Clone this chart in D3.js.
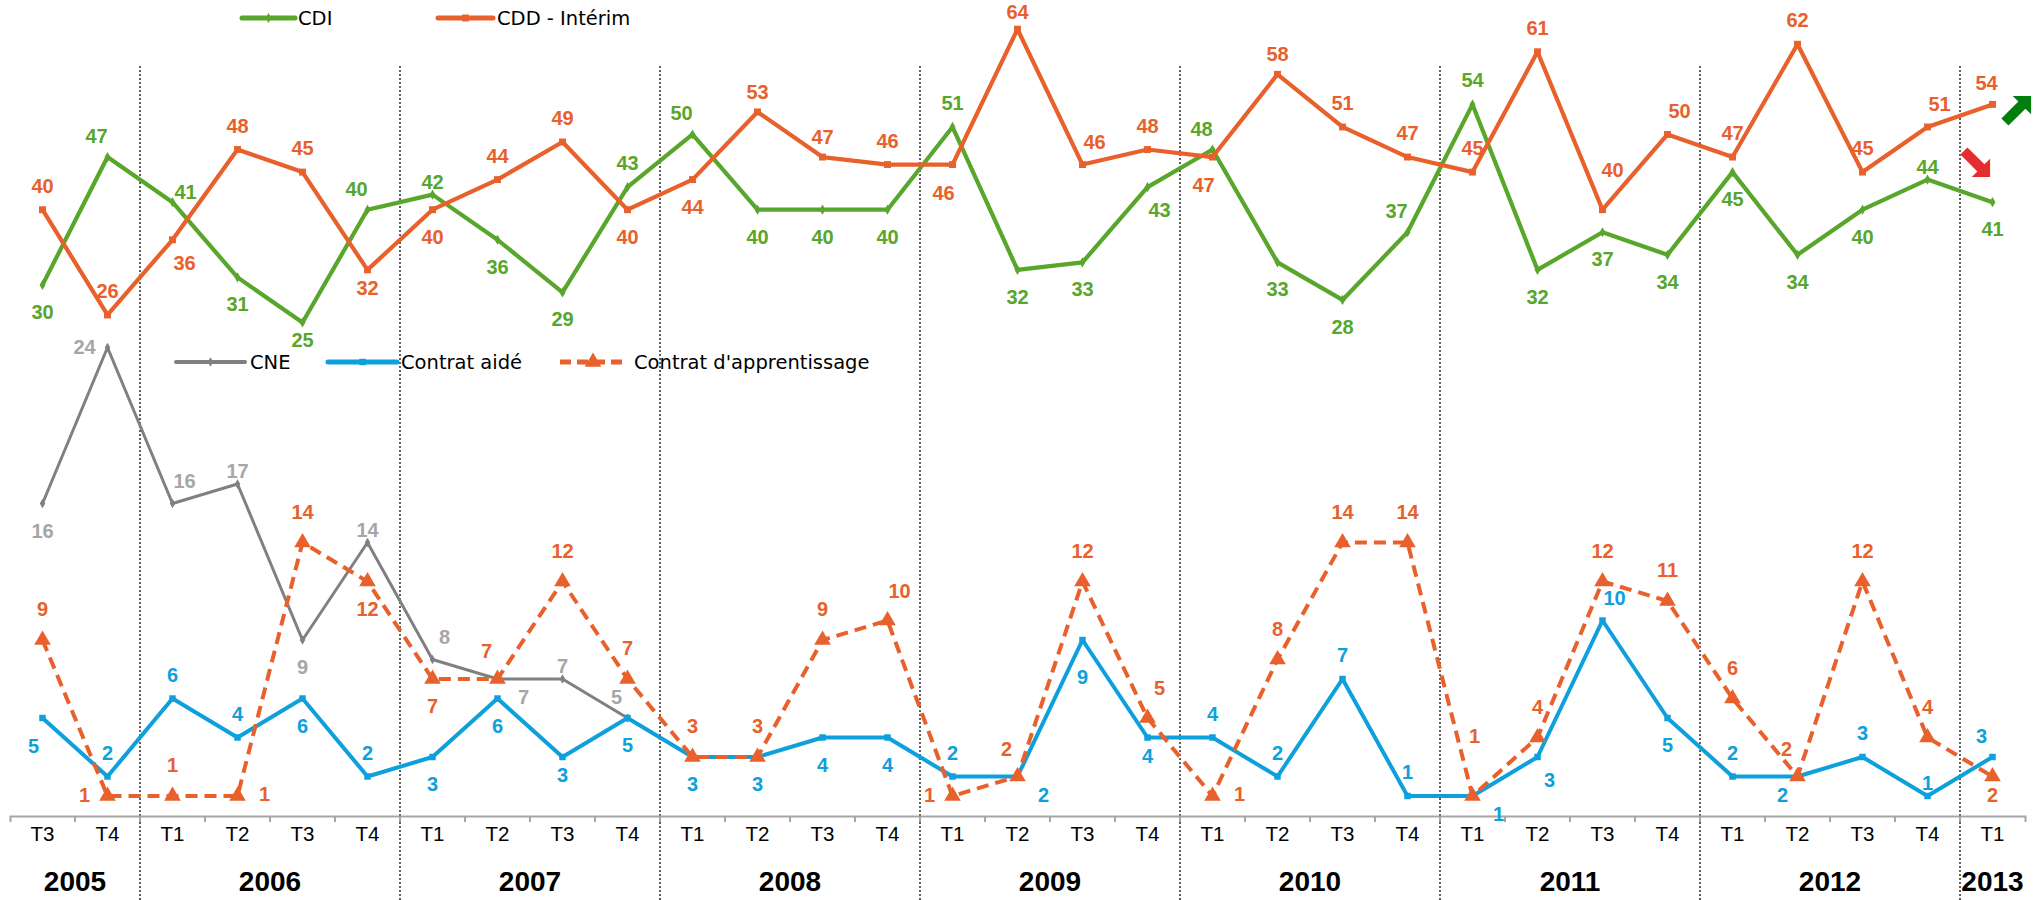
<!DOCTYPE html>
<html>
<head>
<meta charset="utf-8">
<script src="https://cdn.jsdelivr.net/npm/d3@7"></script>
<style>
  html, body { margin: 0; padding: 0; background: #ffffff; }
  svg { display: block; }
</style>
</head>
<body>
<svg id="chart" width="2043" height="900"></svg>
<script>
// Quarters covered, "year quarter"
const periods = [
  "2005 T3", "2005 T4",
  "2006 T1", "2006 T2", "2006 T3", "2006 T4",
  "2007 T1", "2007 T2", "2007 T3", "2007 T4",
  "2008 T1", "2008 T2", "2008 T3", "2008 T4",
  "2009 T1", "2009 T2", "2009 T3", "2009 T4",
  "2010 T1", "2010 T2", "2010 T3", "2010 T4",
  "2011 T1", "2011 T2", "2011 T3", "2011 T4",
  "2012 T1", "2012 T2", "2012 T3", "2012 T4",
  "2013 T1"
];

// Upper panel series
const cdi = [30, 47, 41, 31, 25, 40, 42, 36, 29, 43, 50, 40, 40, 40, 51, 32,
             33, 43, 48, 33, 28, 37, 54, 32, 37, 34, 45, 34, 40, 44, 41];
const cdd = [40, 26, 36, 48, 45, 32, 40, 44, 49, 40, 44, 53, 47, 46, 46, 64,
             46, 48, 47, 58, 51, 47, 45, 61, 40, 50, 47, 62, 45, 51, 54];

// Lower panel series
const cne = [16, 24, 16, 17, 9, 14, 8, 7, 7, 5, null, null, null, null, null, null,
             null, null, null, null, null, null, null, null, null, null, null, null, null, null, null];
const aide = [5, 2, 6, 4, 6, 2, 3, 6, 3, 5, 3, 3, 4, 4, 2, 2,
              9, 4, 4, 2, 7, 1, 1, 3, 10, 5, 2, 2, 3, 1, 3];
const apprentissage = [9, 1, 1, 1, 14, 12, 7, 7, 12, 7, 3, 3, 9, 10, 1, 2,
                       12, 5, 1, 8, 14, 14, 1, 4, 12, 11, 6, 2, 12, 4, 2];

// Where each value label sits around its point
const cdiLabelPos = ["b","tl","rt","b","bn","tl","tn","b","b","t","tl","b","b","b","t","b",
                     "b","br","tl","b","b","tl","t","b","b","b","b","b","b","tn","b"];
const cddLabelPos = ["t","t","br","t","t","bn","b","t","t","b","b","t2","t2","t","bl","t3",
                     "tr","t","bl","t2","t","t","t","t","tf","tr","t","t","t","tr","tl2"];
const cneLabelPos = ["b","l","tr","tn","b","tn","tr","rb","tn","tl","","","","","","",
                     "","","","","","","","","","","","","","",""];
const aideLabelPos = ["bl","t","t","t","b","t","b","b","bn","b","b","b","b","b","t","rb",
                      "bf","bn","t","t","t","t","rb","br","tr","b","t","lb","t","tn","tl"];
const apprLabelPos = ["t","l","t","r","t","b","b","tl","t","t","t","t","t","tr","l","tl",
                      "t","tr","r","t","t","t","tff","t","t","t","t","tl","t","t","bn"];

const W = 2043, H = 900;
const svg = d3.select("#chart");

const COL = {
  cdi: "#58a62b",
  cdd: "#e8612c",
  cne: "#808080",
  cneText: "#a6a6a6",
  aide: "#0ea0dc",
  appr: "#e8612c"
};

const labelFont = "'Liberation Sans', Arial, sans-serif";
const legendFont = "'DejaVu Sans', Verdana, sans-serif";

// Scales
const x = d3.scaleBand().domain(periods).range([10, 2025]).padding(0);
const cx = p => x(p) + x.bandwidth() / 2;
const yTop = d3.scaleLinear().domain([0, 64]).range([510.5, 29.2]);
const yBot = d3.scaleLinear().domain([0, 40]).range([815.5, 35.5]);
const axisY = 816;

// Year separators (dotted)
const years = d3.groups(periods, p => p.split(" ")[0]);
const sepG = svg.append("g");
years.slice(1).forEach(([yr, ps]) => {
  sepG.append("line")
    .attr("x1", x(ps[0])).attr("x2", x(ps[0]))
    .attr("y1", 66).attr("y2", H)
    .attr("stroke", "#1a1a1a")
    .attr("stroke-width", 1.4)
    .attr("stroke-dasharray", "2,2");
});

// Bottom axis: quarter labels at band centres
const axis = d3.axisBottom(x)
  .tickSizeInner(0)
  .tickSizeOuter(6)
  .tickPadding(10)
  .tickFormat(p => p.split(" ")[1]);
const axG = svg.append("g").attr("transform", `translate(0,${axisY})`).call(axis);
axG.select(".domain").attr("stroke", "#a6a6a6").attr("stroke-width", 2);
axG.selectAll(".tick text")
  .attr("font-family", labelFont)
  .attr("font-size", 20.5)
  .attr("fill", "#000");
// boundary ticks between quarters
axG.selectAll("line.bt")
  .data(periods.slice(1))
  .join("line")
  .attr("class", "bt")
  .attr("x1", p => x(p)).attr("x2", p => x(p))
  .attr("y1", 0).attr("y2", 6)
  .attr("stroke", "#a6a6a6").attr("stroke-width", 2);

// Year labels
svg.append("g").selectAll("text")
  .data(years)
  .join("text")
  .attr("x", ([yr, ps]) => (x(ps[0]) + x(ps[ps.length - 1]) + x.bandwidth()) / 2)
  .attr("y", 881)
  .attr("dy", "0.35em")
  .attr("text-anchor", "middle")
  .attr("font-family", labelFont)
  .attr("font-weight", "bold")
  .attr("font-size", 28)
  .attr("fill", "#000")
  .text(([yr]) => yr);

// Label offsets around a point
const OFF = {
  t: [0, -24], t2: [0, -20], t3: [0, -17], tn: [0, -13], tf: [10, -40], tff: [2, -60],
  b: [0, 27], bn: [0, 18], bf: [0, 37],
  tl: [-11, -21], tl2: [-6, -21], tr: [12, -23], rt: [13, -10],
  bl: [-9, 28], br: [12, 23], rb: [26, 18], lb: [-15, 18],
  l: [-23, -1], r: [27, -2]
};

function drawSeries(cfg) {
  const g = svg.append("g");
  const pts = periods.map((p, i) => ({ p, v: cfg.values[i], pos: cfg.labelPos[i] }));
  const line = d3.line()
    .defined(d => d.v != null)
    .x(d => cx(d.p))
    .y(d => cfg.y(d.v));
  g.append("path")
    .datum(pts)
    .attr("d", line)
    .attr("fill", "none")
    .attr("stroke", cfg.color)
    .attr("stroke-width", cfg.width)
    .attr("stroke-linejoin", "round")
    .attr("stroke-dasharray", cfg.dash || null);
  const valid = pts.filter(d => d.v != null);
  g.selectAll("path.m")
    .data(valid)
    .join("path")
    .attr("class", "m")
    .attr("transform", d => `translate(${cx(d.p)},${cfg.y(d.v)})`)
    .attr("d", d3.symbol().type(cfg.symbol).size(cfg.symbolSize))
    .attr("fill", cfg.color);
  return { g, valid };
}

function drawLabels(cfg, valid) {
  svg.append("g").selectAll("text")
    .data(valid)
    .join("text")
    .attr("x", d => cx(d.p) + OFF[d.pos][0])
    .attr("y", d => cfg.y(d.v) + OFF[d.pos][1] - (d.pos[0] === "t" && d.pos !== "tff" ? cfg.pad : 0))
    .attr("dy", "0.35em")
    .attr("text-anchor", "middle")
    .attr("font-family", labelFont)
    .attr("font-weight", "bold")
    .attr("font-size", 20)
    .attr("fill", cfg.textColor || cfg.color)
    .text(d => d.v);
}

const series = [
  { values: cne, labelPos: cneLabelPos, y: yBot, color: COL.cne, textColor: COL.cneText, width: 3,
    symbol: d3.symbolDiamond, symbolSize: 26, pad: 0 },
  { values: aide, labelPos: aideLabelPos, y: yBot, color: COL.aide, width: 4,
    symbol: d3.symbolSquare, symbolSize: 42, pad: 0 },
  { values: apprentissage, labelPos: apprLabelPos, y: yBot, color: COL.appr, width: 4, dash: "12,7",
    symbol: d3.symbolTriangle, symbolSize: 120, pad: 7 },
  { values: cdi, labelPos: cdiLabelPos, y: yTop, color: COL.cdi, width: 4.2,
    symbol: d3.symbolDiamond, symbolSize: 30, pad: 0 },
  { values: cdd, labelPos: cddLabelPos, y: yTop, color: COL.cdd, width: 4.2,
    symbol: d3.symbolSquare, symbolSize: 48, pad: 0 }
];
const drawn = series.map(s => drawSeries(s));
series.forEach((s, i) => drawLabels(s, drawn[i].valid));

// Legends
function legendItem(x0, x1, y, color, width, symbol, size, dash, label, textX) {
  const g = svg.append("g");
  g.append("line")
    .attr("x1", x0).attr("x2", x1).attr("y1", y).attr("y2", y)
    .attr("stroke", color).attr("stroke-width", width)
    .attr("stroke-linecap", dash ? "butt" : "round")
    .attr("stroke-dasharray", dash || null);
  g.append("path")
    .attr("transform", `translate(${(x0 + x1) / 2},${y})`)
    .attr("d", d3.symbol().type(symbol).size(size))
    .attr("fill", color);
  g.append("text")
    .attr("x", textX).attr("y", y).attr("dy", "0.36em")
    .attr("font-family", legendFont)
    .attr("font-size", 19.5)
    .attr("fill", "#000")
    .text(label);
}
legendItem(242, 295, 18, COL.cdi, 5, d3.symbolDiamond, 30, null, "CDI", 298);
legendItem(438, 493, 18, COL.cdd, 5, d3.symbolSquare, 48, null, "CDD - Intérim", 497);
legendItem(176, 245, 362, COL.cne, 4, d3.symbolDiamond, 26, null, "CNE", 250);
legendItem(328, 397, 362, COL.aide, 5, d3.symbolSquare, 42, null, "Contrat aidé", 401);
legendItem(560, 626, 362, COL.appr, 5, d3.symbolTriangle, 120, "11,6", "Contrat d'apprentissage", 634);

// Trend arrows at the end of the upper panel
function blockArrow(cxA, cyA, angle, color) {
  const L = 37, h = 13, s = 5;
  const hb = L / 2 - h;
  const pts = [
    [-L / 2, -s], [hb, -s], [hb, -h], [L / 2, 0], [hb, h], [hb, s], [-L / 2, s]
  ];
  svg.append("path")
    .attr("d", "M" + pts.map(p => p.join(",")).join("L") + "Z")
    .attr("transform", `translate(${cxA},${cyA}) rotate(${angle})`)
    .attr("fill", color);
}
blockArrow(2018, 109, -45, "#007f0f");
blockArrow(1977, 164, 45, "#e52d2f");
</script>
</body>
</html>
